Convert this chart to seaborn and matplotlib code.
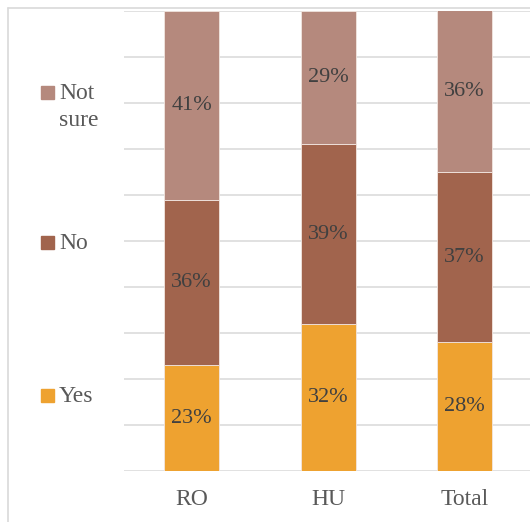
import matplotlib
matplotlib.use("Agg")
import matplotlib.pyplot as plt
from matplotlib.lines import Line2D
from matplotlib.patches import Rectangle
import numpy as np
import pandas as pd
import seaborn as sns

# Survey answers by group (percent of respondents)
categories = ["RO", "HU", "Total"]
yes = [23, 32, 28]
no = [36, 39, 37]
not_sure = [41, 29, 36]

series_names = ["Yes", "No", "Not sure"]
legend_lines = {"Yes": ["Yes"], "No": ["No"], "Not sure": ["Not", "sure"]}
colors = {"Yes": "#eea230", "No": "#a1644d", "Not sure": "#b5897d"}

sns.set_theme(style="white")
plt.rcParams["font.family"] = ["Liberation Serif", "DejaVu Serif"]

W, H = 530, 522
fig = plt.figure(figsize=(W / 100, H / 100), dpi=100)
fig.patch.set_facecolor("white")

# plot area in pixel terms
x0, x1, y_top, y_bot = 123.5, 533.0, 11.0, 471.0
ax = fig.add_axes([x0 / W, (H - y_bot) / H, (x1 - x0) / W, (y_bot - y_top) / H])

df = pd.DataFrame({"group": categories, "Yes": yes, "No": no, "Not sure": not_sure})

bottom = np.zeros(len(categories))
for name in series_names:
    sns.barplot(data=df, x="group", y=name, bottom=bottom, color=colors[name],
                width=0.4, saturation=1, edgecolor="#f2e6e0", linewidth=0.6,
                ax=ax, zorder=3)
    bottom = bottom + df[name].to_numpy()

for cont in ax.containers:
    ax.bar_label(cont, labels=[f"{v:.0f}%" for v in cont.datavalues],
                 label_type="center", fontsize=16, color="#404040")

ax.set_xlim(-0.5, 2.5)
ax.set_ylim(0, 100)
ax.set_yticks(np.arange(0, 101, 10))
ax.set_yticklabels([])
ax.yaxis.grid(True, color="#d9d9d9", linewidth=1.1)
ax.set_axisbelow(True)
for s in ax.spines.values():
    s.set_visible(False)
ax.set_xlabel("")
ax.set_ylabel("")
ax.tick_params(axis="x", length=0, pad=13, labelsize=17, labelcolor="#595959")
ax.tick_params(axis="y", length=0)

# outer chart frame
frame_kw = dict(color="#d9d9d9", linewidth=1.2, transform=fig.transFigure)
fig.add_artist(Line2D([8 / W, 8 / W], [0, (H - 8) / H], **frame_kw))
fig.add_artist(Line2D([8 / W, 1], [(H - 8) / H, (H - 8) / H], **frame_kw))

# legend on the left: square marker plus (possibly wrapped) label
legend_rows = [("Not sure", 99.0), ("No", 249.0), ("Yes", 402.0)]
for name, baseline in legend_rows:
    fig.add_artist(Rectangle((41 / W, (H - baseline) / H), 13 / W, 13 / H,
                             transform=fig.transFigure, color=colors[name]))
    for i, line in enumerate(legend_lines[name]):
        fig.text(59 / W, (H - baseline - 27 * i) / H, line, fontsize=17,
                 color="#595959", ha="left", va="baseline")

fig.savefig("out.png", dpi=100)
